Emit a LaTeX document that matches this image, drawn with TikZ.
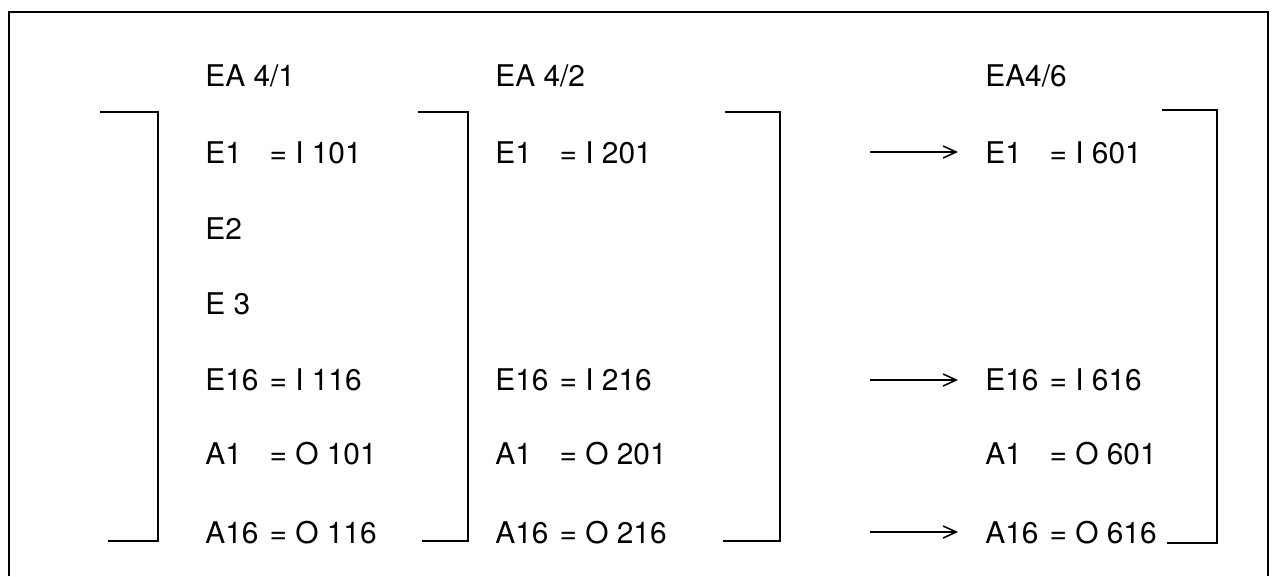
\documentclass[tikz,border=0pt]{standalone}
\usepackage{fontspec}
\setmainfont{TeX Gyre Heros}
\usetikzlibrary{arrows.meta}
\newcommand{\io}[2]{\makebox[2.15em][l]{#1}= #2}

\begin{document}
\begin{tikzpicture}[
    x=0.02cm, y=-0.02cm,
    lbl/.style={anchor=base west, inner sep=0pt, font=\fontsize{17}{20}\selectfont},
    brk/.style={line width=1pt},
    frm/.style={line width=0.9pt},
    arr/.style={-{Straight Barb[length=2.6mm,width=2.4mm]}, line width=0.9pt, shorten >=0.54cm}
]
    \useasboundingbox (0,0) rectangle (1275,576);
    \draw [frm] (9,576) -- (9,12) -- (1268,12) -- (1268,576);

    % EA 4/1
    \node [lbl] (h1) at (205,86) {EA 4/1};
    \node [lbl] (c11) at (205,163) {\io{E1}{I 101}};
    \node [lbl] (c12) at (205,239) {E2};
    \node [lbl] (c13) at (205,314) {E 3};
    \node [lbl] (c14) at (205,390) {\io{E16}{I 116}};
    \node [lbl] (c15) at (205,464) {\io{A1}{O 101}};
    \node [lbl] (c16) at (205,543) {\io{A16}{O 116}};

    % EA 4/2
    \node [lbl] (h2) at (495,86) {EA 4/2};
    \node [lbl] (c21) at (495,163) {\io{E1}{I 201}};
    \node [lbl] (c24) at (495,390) {\io{E16}{I 216}};
    \node [lbl] (c25) at (495,464) {\io{A1}{O 201}};
    \node [lbl] (c26) at (495,543) {\io{A16}{O 216}};

    % EA4/6
    \node [lbl] (h3) at (985,86) {EA4/6};
    \node [lbl] (c31) at (985,163) {\io{E1}{I 601}};
    \node [lbl] (c34) at (985,390) {\io{E16}{I 616}};
    \node [lbl] (c35) at (985,464) {\io{A1}{O 601}};
    \node [lbl] (c36) at (985,543) {\io{A16}{O 616}};

    % brackets
    \draw [brk] (100,112) -- (158,112) -- (158,541) -- (108,541);
    \draw [brk] (418,112) -- (468,112) -- (468,541) -- (422,541);
    \draw [brk] (725,112) -- (780,112) -- (780,541) -- (723,541);
    \draw [brk] (1162,110) -- (1217,110) -- (1217,543) -- (1167,543);

    \coordinate (s1) at (870,152);
    \coordinate (s4) at (870,380);
    \coordinate (s6) at (870,532);
    \draw [arr] (s1) -- (s1 -| c31.west);
    \draw [arr] (s4) -- (s4 -| c34.west);
    \draw [arr] (s6) -- (s6 -| c36.west);
\end{tikzpicture}
\end{document}
